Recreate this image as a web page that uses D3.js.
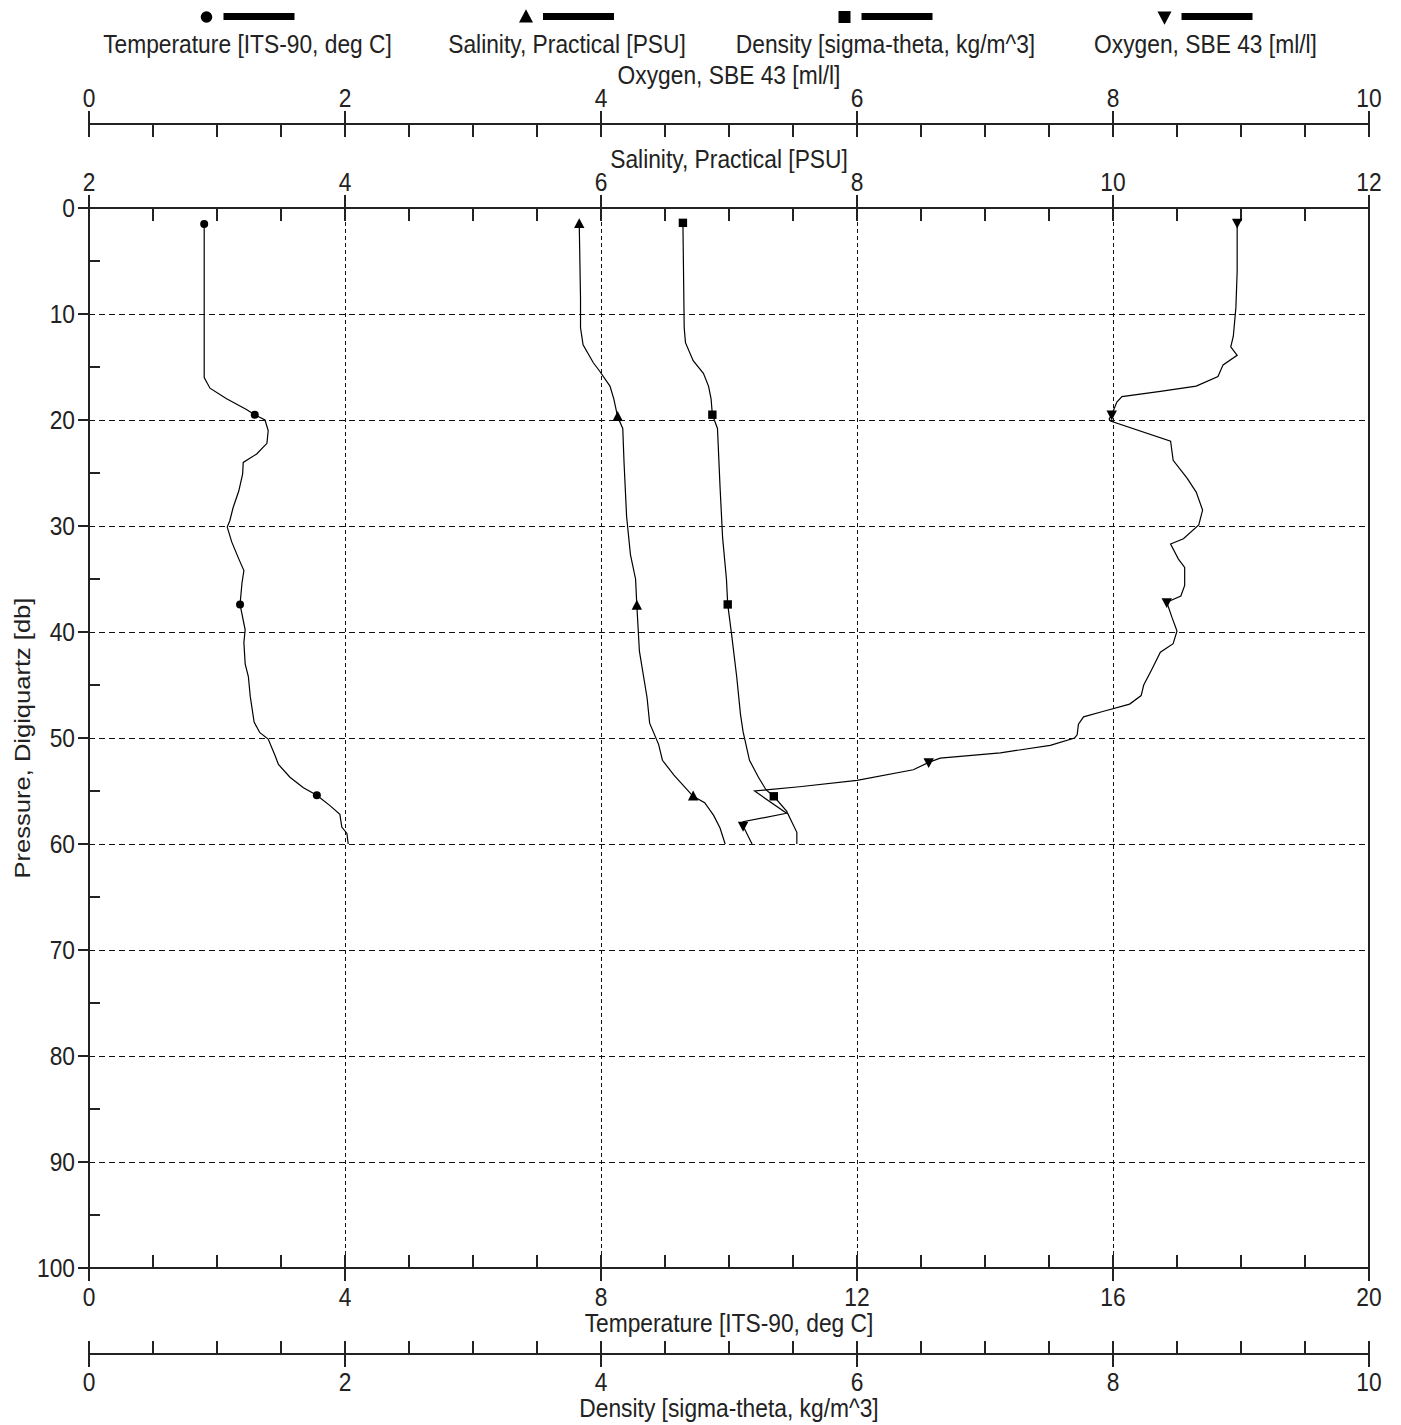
<!DOCTYPE html>
<html>
<head>
<meta charset="utf-8">
<script src="https://cdn.jsdelivr.net/npm/d3@7"></script>
<style>
  html, body { margin: 0; padding: 0; background: #fff; }
  svg { display: block; }
  text { font-family: "Liberation Sans", Arial, sans-serif; font-size: 22.8px; fill: #222; }
</style>
</head>
<body>
<svg id="chart" width="1401" height="1425"></svg>
<script>
// ---------------- DATA ----------------
const seriesNames = ["Temperature [ITS-90, deg C]", "Salinity, Practical [PSU]", "Density [sigma-theta, kg/m^3]", "Oxygen, SBE 43 [ml/l]"];

const tempPressure = [1.5,16.0,17.0,18.0,19.0,19.5,20.0,21.0,22.2,23.2,24.0,25.1,26.7,28.3,29.5,30.1,31.5,33.1,34.2,35.4,37.4,39.8,41.0,43.0,44.2,46.1,48.5,49.5,50.1,51.7,52.5,53.7,54.7,55.4,56.4,57.2,58.4,59.0,60.0];
const tempValues   = [1.80,1.80,1.89,2.15,2.46,2.59,2.75,2.80,2.78,2.62,2.41,2.40,2.34,2.25,2.20,2.16,2.23,2.34,2.42,2.39,2.36,2.44,2.42,2.44,2.49,2.52,2.58,2.67,2.80,2.91,2.96,3.14,3.35,3.56,3.77,3.92,3.95,4.03,4.05];
const tempMarkers  = [1.5,19.5,37.4,55.4];

const salPressure = [1.5,8.5,11.3,12.9,14.6,15.4,16.8,18.0,19.7,20.8,24.0,29.1,32.7,35.0,37.5,41.8,46.2,48.6,50.6,52.1,53.5,54.7,55.5,56.1,57.3,58.5,60.0];
const salValues   = [5.83,5.84,5.84,5.86,5.94,5.99,6.07,6.10,6.13,6.17,6.18,6.20,6.23,6.27,6.28,6.30,6.36,6.38,6.45,6.48,6.57,6.66,6.72,6.81,6.88,6.93,6.97];
const salMarkers  = [1.5,19.7,37.5,55.5];

const densPressure = [1.4,11.3,12.7,14.4,15.6,16.8,18.0,19.5,20.8,26.3,31.1,35.0,37.4,40.2,44.2,47.8,49.4,52.1,53.7,54.9,55.5,56.9,57.9,58.9,60.0];
const densValues   = [4.64,4.65,4.66,4.72,4.80,4.84,4.86,4.87,4.91,4.93,4.95,4.98,4.99,5.02,5.06,5.09,5.11,5.16,5.23,5.29,5.35,5.45,5.49,5.53,5.53];
const densMarkers  = [1.4,19.5,37.4,55.5];

const oxyPressure = [1.4,6.0,9.4,12.1,13.1,13.9,14.8,15.9,16.8,17.3,17.8,18.3,19.5,19.9,20.1,22.0,23.8,25.5,26.8,28.5,29.9,31.2,31.7,33.1,33.9,35.6,36.6,37.2,38.6,39.9,41.1,41.9,43.6,45.0,46.0,46.8,47.5,48.0,48.7,49.7,50.0,50.7,51.4,51.9,52.3,53.0,54.0,54.6,54.9,55.0,57.1,57.9,58.3,60.0];
const oxyValues   = [8.97,8.97,8.96,8.94,8.92,8.97,8.86,8.82,8.65,8.37,8.07,8.03,7.99,7.97,7.98,8.45,8.47,8.58,8.65,8.70,8.67,8.55,8.45,8.51,8.56,8.56,8.53,8.42,8.46,8.50,8.47,8.37,8.30,8.24,8.22,8.13,7.92,7.77,7.73,7.72,7.70,7.51,7.12,6.65,6.56,6.44,6.00,5.55,5.29,5.20,5.45,5.11,5.11,5.18];
const oxyMarkers  = [1.4,19.5,37.2,52.3,58.3];

// axis tick labels
const pressureTicks = [0,10,20,30,40,50,60,70,80,90,100];
const tempTicks = [0,4,8,12,16,20];
const salTicks = [2,4,6,8,10,12];
const oxyTicks = [0,2,4,6,8,10];
const densTicks = [0,2,4,6,8,10];
const axisTitles = {
  pressure: "Pressure, Digiquartz [db]",
  temp: "Temperature [ITS-90, deg C]",
  sal: "Salinity, Practical [PSU]",
  oxy: "Oxygen, SBE 43 [ml/l]",
  dens: "Density [sigma-theta, kg/m^3]"
};

// ---------------- LAYOUT ----------------
const X0 = 89, X1 = 1369, Y0 = 208, Y1 = 1268;
const SY = 1.12; // vertical text stretch
const svg = d3.select("#chart");

const yP = d3.scaleLinear().domain([0,100]).range([Y0,Y1]);
const xT = d3.scaleLinear().domain([0,20]).range([X0,X1]);
const xS = d3.scaleLinear().domain([2,12]).range([X0,X1]);
const xO = d3.scaleLinear().domain([0,10]).range([X0,X1]);
const xD = d3.scaleLinear().domain([0,10]).range([X0,X1]);

function txt(g, x, y, s, anchor) {
  return g.append("text")
    .attr("transform", `translate(${x},${y}) scale(1,${SY})`)
    .attr("text-anchor", anchor || "middle")
    .text(s);
}

// ---------------- GRID ----------------
const grid = svg.append("g").attr("shape-rendering", "crispEdges");
grid.selectAll("line.h").data(pressureTicks.filter(d => d > 0 && d < 100)).join("line")
  .attr("x1", X0).attr("x2", X1).attr("y1", d => yP(d)).attr("y2", d => yP(d))
  .attr("stroke", "#111").attr("stroke-width", 1).attr("stroke-dasharray", "6,4");
grid.selectAll("line.v").data(tempTicks.filter(d => d > 0 && d < 20)).join("line")
  .attr("y1", Y0).attr("y2", Y1).attr("x1", d => xT(d)).attr("x2", d => xT(d))
  .attr("stroke", "#111").attr("stroke-width", 1).attr("stroke-dasharray", "4,3");

// ---------------- AXES ----------------
const axG = svg.append("g").attr("stroke", "#222").attr("stroke-width", 1.5).attr("shape-rendering", "crispEdges");
function hAxis(scale, yLine, majors, minors, dir, labelY, titleY, title) {
  axG.append("line").attr("x1", X0).attr("x2", X1).attr("y1", yLine).attr("y2", yLine);
  minors.forEach(v => {
    axG.append("line").attr("x1", scale(v)).attr("x2", scale(v)).attr("y1", yLine).attr("y2", yLine + dir * 13);
  });
  majors.forEach(v => {
    axG.append("line").attr("x1", scale(v)).attr("x2", scale(v)).attr("y1", yLine - 13).attr("y2", yLine + 13);
    txt(svg, scale(v), labelY, String(v));
  });
  txt(svg, (X0 + X1) / 2, titleY, title);
}
hAxis(xO, 124, oxyTicks, d3.range(0, 10.01, 0.5), 1, 107, 84, axisTitles.oxy);
hAxis(xS, Y0, salTicks, d3.range(2, 12.01, 0.5), 1, 191, 168, axisTitles.sal);
hAxis(xT, Y1, tempTicks, d3.range(0, 20.01, 1), -1, 1306, 1332, axisTitles.temp);
hAxis(xD, 1354, densTicks, d3.range(0, 10.01, 0.5), -1, 1391, 1417, axisTitles.dens);

// left axis and right border
axG.append("line").attr("x1", X0).attr("x2", X0).attr("y1", Y0).attr("y2", Y1);
axG.append("line").attr("x1", X1).attr("x2", X1).attr("y1", Y0).attr("y2", Y1);
d3.range(5, 100, 10).forEach(v => {
  axG.append("line").attr("x1", X0).attr("x2", X0 + 11).attr("y1", yP(v)).attr("y2", yP(v));
});
pressureTicks.forEach(v => {
  axG.append("line").attr("x1", X0 - 11).attr("x2", X0).attr("y1", yP(v)).attr("y2", yP(v));
  txt(svg, 75, yP(v) + 8.5, String(v), "end");
});
svg.append("text")
  .attr("transform", `translate(30,${(Y0 + Y1) / 2}) rotate(-90) scale(${SY},1)`)
  .attr("text-anchor", "middle")
  .text(axisTitles.pressure);

// ---------------- SYMBOLS ----------------
function symbolPath(kind, s) {
  if (kind === "circle") return `M${-s},0A${s},${s} 0 1,0 ${s},0A${s},${s} 0 1,0 ${-s},0Z`;
  if (kind === "square") return `M${-s},${-s}H${s}V${s}H${-s}Z`;
  if (kind === "up") return `M0,${-s * 1.1}L${s},${s * 0.8}L${-s},${s * 0.8}Z`;
  if (kind === "down") return `M0,${s * 1.1}L${s},${-s * 0.8}L${-s},${-s * 0.8}Z`;
}

// ---------------- SERIES ----------------
const series = [
  { name: seriesNames[0], p: tempPressure, v: tempValues, m: tempMarkers, x: xT, sym: "circle", ms: 4, ls: 5.8, lc: 247.5 },
  { name: seriesNames[1], p: salPressure,  v: salValues,  m: salMarkers,  x: xS, sym: "up",     ms: 5.2, ls: 7, lc: 567 },
  { name: seriesNames[2], p: densPressure, v: densValues, m: densMarkers, x: xD, sym: "square", ms: 4.2, ls: 6, lc: 885.5 },
  { name: seriesNames[3], p: oxyPressure,  v: oxyValues,  m: oxyMarkers,  x: xO, sym: "down",   ms: 5.2, ls: 7, lc: 1205.5 }
];

const plot = svg.append("g");
series.forEach(s => {
  const pts = s.p.map((p, i) => [s.v[i], p]);
  const line = d3.line().x(d => s.x(d[0])).y(d => yP(d[1]));
  plot.append("path").attr("d", line(pts)).attr("fill", "none").attr("stroke", "#000").attr("stroke-width", 1.2);
  pts.filter(d => s.m.includes(d[1])).forEach(d => {
    plot.append("path").attr("d", symbolPath(s.sym, s.ms))
      .attr("transform", `translate(${s.x(d[0])},${yP(d[1])})`).attr("fill", "#000");
  });
  // legend
  svg.append("path").attr("d", symbolPath(s.sym, s.ls))
    .attr("transform", `translate(${s.lc - 41},17)`).attr("fill", "#000");
  svg.append("rect").attr("x", s.lc - 24).attr("y", 13).attr("width", 71).attr("height", 7).attr("fill", "#000");
  txt(svg, s.lc, 53, s.name);
});
</script>
</body>
</html>
